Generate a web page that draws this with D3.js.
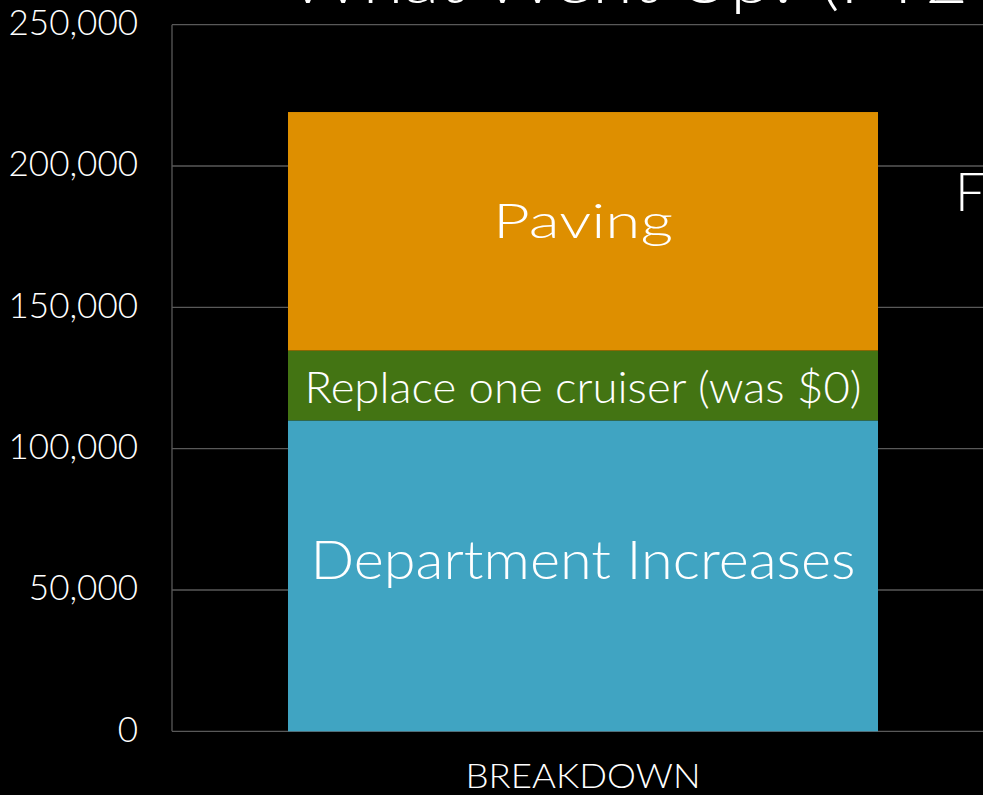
<!DOCTYPE html>
<html><head><meta charset="utf-8">
<script src="https://cdn.jsdelivr.net/npm/d3@7/dist/d3.min.js"></script>
<style>html,body{margin:0;padding:0;background:#000;overflow:hidden}svg{display:block}</style>
</head><body>
<svg id="c" width="983" height="795"></svg>
<script>
const categories = ["BREAKDOWN"];
const segmentNames = ["Department Increases", "Replace one cruiser (was $0)", "Paving"];
const segmentValues = [110000, 24700, 84400];
const segmentColors = ["#40A4C2", "#437413", "#DE8F00"];
const yTicks = [0, 50000, 100000, 150000, 200000, 250000];
const titleText = "What Went Up? (FY2";
const sideText = "F";

(function () {
const svg = d3.select("#c");
const font = "Lato, 'Open Sans', sans-serif";
const pLeft = 172, pRight = 994, pTop = 24.7, pBottom = 731.3;

const y = d3.scaleLinear().domain([0, 250000]).range([pBottom, pTop]);
const x = d3.scaleBand().domain(categories).range([pLeft, pRight]).paddingInner(0.1643).paddingOuter(0.1643);

// gridlines
svg.append("g").selectAll("line").data(yTicks).join("line")
  .attr("x1", pLeft).attr("x2", 983).attr("y1", d => y(d)).attr("y2", d => y(d))
  .attr("stroke", "#595959").attr("stroke-width", 1.3);
svg.append("line").attr("x1", pLeft).attr("x2", pLeft).attr("y1", pTop).attr("y2", pBottom)
  .attr("stroke", "#595959").attr("stroke-width", 1.3);

// y axis labels
const yAxis = d3.axisLeft(y).tickValues(yTicks).tickFormat(d3.format(",")).tickSize(0).tickPadding(34);
const gy = svg.append("g").attr("transform", `translate(${pLeft},0)`).call(yAxis);
gy.select(".domain").remove();
gy.selectAll("text").attr("fill", "#fff").attr("font-family", font).attr("font-size", 35).attr("font-weight", 300)
  .attr("dy", "0.28em");

// stacked segments
let cum = 0;
const segs = segmentValues.map((v, i) => { const s = {name: segmentNames[i], y0: cum, y1: cum + v, color: segmentColors[i]}; cum += v; return s; });
const cx = x(categories[0]) + x.bandwidth() / 2;
svg.append("g").selectAll("rect").data(segs).join("rect")
  .attr("x", x(categories[0])).attr("width", x.bandwidth())
  .attr("y", d => y(d.y1)).attr("height", d => y(d.y0) - y(d.y1))
  .attr("fill", d => d.color);

const labelSizes = [52.5, 43, 46.5];
const labelShift = [3.3, 17.6, 6.9];
const labelWidths = [545, 557, 180];
svg.append("g").selectAll("text").data(segs).join("text")
  .attr("x", cx).attr("y", (d, i) => (y(d.y0) + y(d.y1)) / 2 + labelShift[i])
  .attr("text-anchor", "middle")
  .attr("fill", "#fff").attr("font-family", font).attr("font-weight", 300)
  .attr("font-size", (d, i) => labelSizes[i])
  .attr("textLength", (d, i) => labelWidths[i]).attr("lengthAdjust", "spacingAndGlyphs")
  .text(d => d.name);

// x axis label
svg.append("text").attr("x", cx).attr("y", 788.3).attr("text-anchor", "middle")
  .attr("fill", "#fff").attr("font-family", font).attr("font-weight", 300).attr("font-size", 32.5)
  .attr("textLength", 235).attr("lengthAdjust", "spacingAndGlyphs")
  .text(categories[0]);

// title (cut off at the top as in the source)
svg.append("text").attr("x", 288).attr("y", 3).attr("fill", "#fff").attr("font-family", font)
  .attr("font-weight", 300).attr("font-size", 61)
  .attr("textLength", 680).attr("lengthAdjust", "spacingAndGlyphs").text(titleText);
svg.append("text").attr("x", 955).attr("y", 210.5).attr("fill", "#fff").attr("font-family", font)
  .attr("font-weight", 300).attr("font-size", 53).text(sideText);
})();
</script>
</body></html>
